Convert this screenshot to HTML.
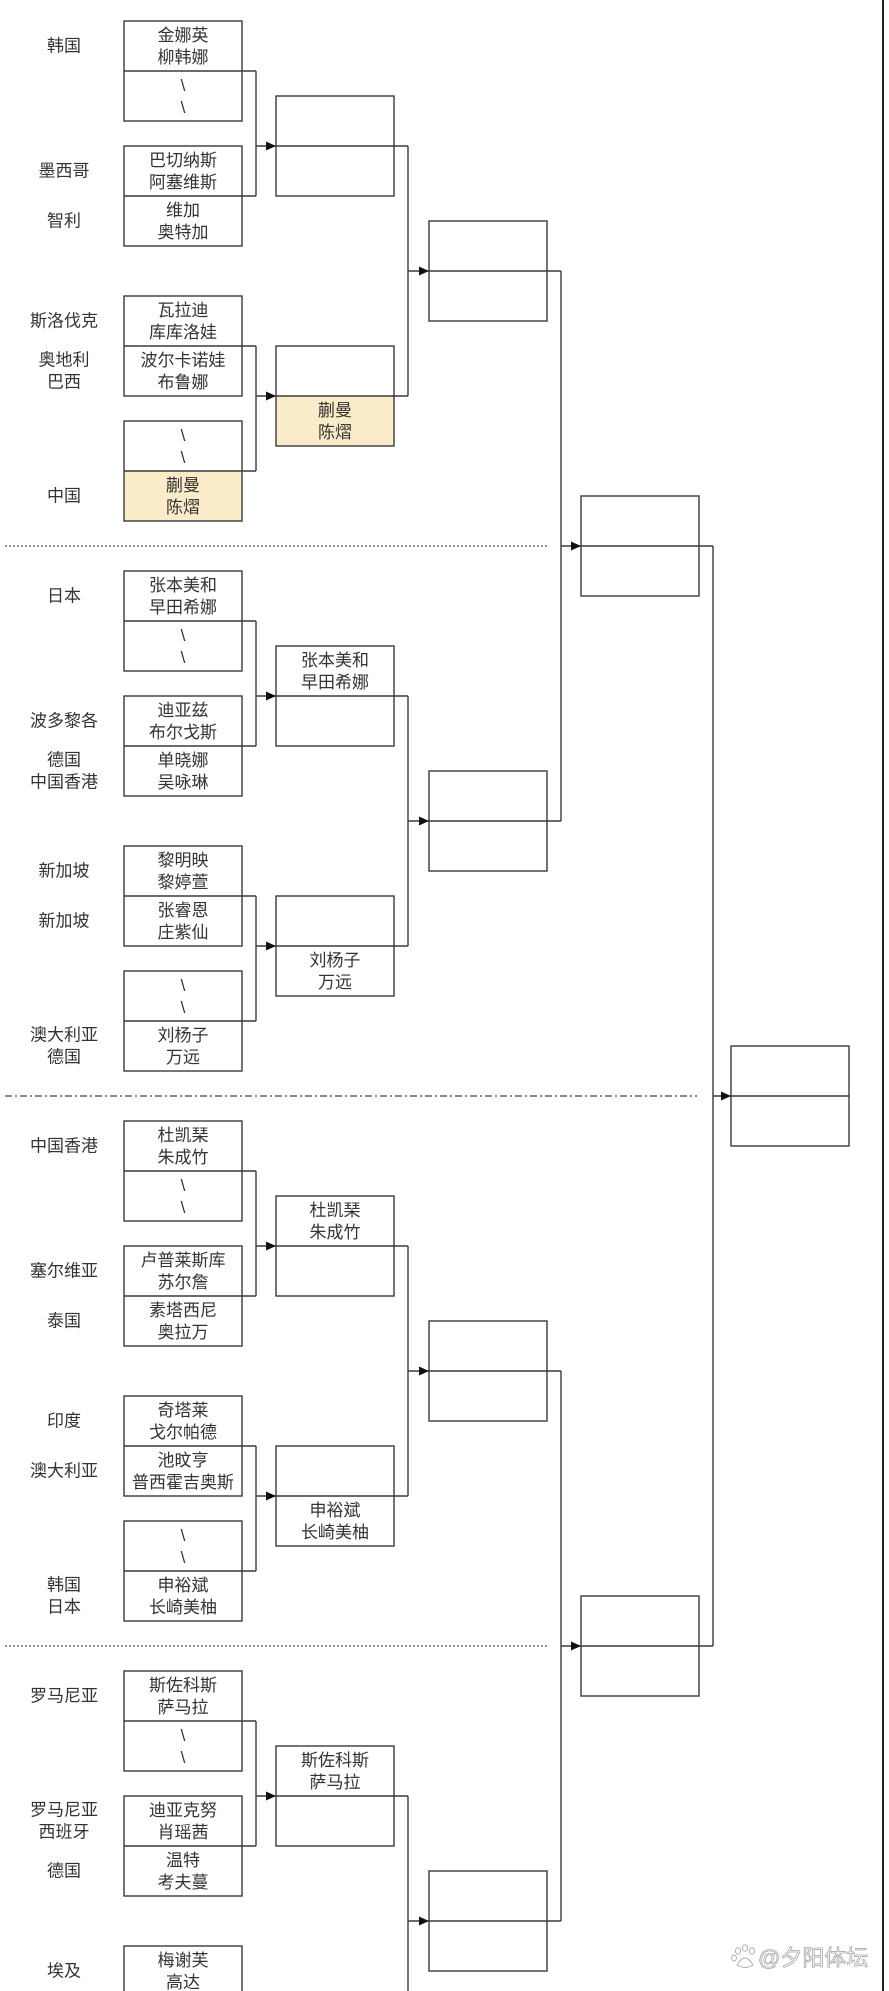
<!DOCTYPE html>
<html><head><meta charset="utf-8">
<style>
html,body{margin:0;padding:0;background:#fff;}
svg{display:block;}
text{font-family:"Liberation Sans","Noto Sans CJK SC",sans-serif;font-size:17px;fill:#333;text-anchor:middle;dominant-baseline:central;}
.b{fill:none;stroke:#3a3a3a;stroke-width:1.4;}
.y{fill:#fbecc9;stroke:none;}
.l{stroke:#3a3a3a;stroke-width:1.4;fill:none;}
.a{fill:#111;}
.wm{font-size:22px;fill:#fff;stroke:#a8a8a8;stroke-width:0.8;text-anchor:start;}
</style></head>
<body>
<svg width="889" height="1991" viewBox="0 0 889 1991" xmlns="http://www.w3.org/2000/svg">
<!-- yellow fills -->
<rect class="y" x="124" y="471" width="118" height="50"/>
<rect class="y" x="276" y="396" width="118" height="50"/>

<!-- dashed separators -->
<line x1="5" y1="546" x2="547" y2="546" stroke="#555" stroke-width="1.2" stroke-dasharray="2 2"/>
<line x1="5" y1="1096" x2="697" y2="1096" stroke="#444" stroke-width="1.3" stroke-dasharray="7 3 2 3"/>
<line x1="5" y1="1646" x2="547" y2="1646" stroke="#555" stroke-width="1.2" stroke-dasharray="2 2"/>

<!-- right border -->
<line x1="883" y1="0" x2="883" y2="1991" stroke="#222" stroke-width="2"/>

<!-- ===== Section 1 ===== -->
<rect class="b" x="124" y="21" width="118" height="100"/><line class="l" x1="124" y1="71" x2="256" y2="71"/>
<rect class="b" x="124" y="146" width="118" height="100"/><line class="l" x1="124" y1="196" x2="256" y2="196"/>
<rect class="b" x="124" y="296" width="118" height="100"/><line class="l" x1="124" y1="346" x2="256" y2="346"/>
<rect class="b" x="124" y="421" width="118" height="100"/><line class="l" x1="124" y1="471" x2="256" y2="471"/>
<line class="l" x1="256" y1="71" x2="256" y2="196"/>
<line class="l" x1="256" y1="346" x2="256" y2="471"/>
<line class="l" x1="256" y1="146" x2="276" y2="146"/><polygon class="a" points="276,146 266,141.5 266,150.5"/>
<line class="l" x1="256" y1="396" x2="276" y2="396"/><polygon class="a" points="276,396 266,391.5 266,400.5"/>
<rect class="b" x="276" y="96" width="118" height="100"/><line class="l" x1="276" y1="146" x2="408" y2="146"/>
<rect class="b" x="276" y="346" width="118" height="100"/><line class="l" x1="276" y1="396" x2="408" y2="396"/>
<line class="l" x1="408" y1="146" x2="408" y2="396"/>
<line class="l" x1="408" y1="271" x2="429" y2="271"/><polygon class="a" points="429,271 419,266.5 419,275.5"/>
<rect class="b" x="429" y="221" width="118" height="100"/><line class="l" x1="429" y1="271" x2="561" y2="271"/>

<text x="64" y="46">韩国</text>
<text x="64" y="171">墨西哥</text>
<text x="64" y="221">智利</text>
<text x="64" y="321">斯洛伐克</text>
<text x="64" y="360">奥地利</text><text x="64" y="382">巴西</text>
<text x="64" y="496">中国</text>

<text x="183" y="35.5">金娜英</text><text x="183" y="57.5">柳韩娜</text>
<text x="183" y="85.5">\</text><text x="183" y="107.5">\</text>
<text x="183" y="160.5">巴切纳斯</text><text x="183" y="182.5">阿塞维斯</text>
<text x="183" y="210.5">维加</text><text x="183" y="232.5">奥特加</text>
<text x="183" y="310.5">瓦拉迪</text><text x="183" y="332.5">库库洛娃</text>
<text x="183" y="360.5">波尔卡诺娃</text><text x="183" y="382.5">布鲁娜</text>
<text x="183" y="435.5">\</text><text x="183" y="457.5">\</text>
<text x="183" y="485.5">蒯曼</text><text x="183" y="507.5">陈熠</text>
<text x="335" y="410.5">蒯曼</text><text x="335" y="432.5">陈熠</text>

<!-- ===== Section 2 ===== -->
<rect class="b" x="124" y="571" width="118" height="100"/><line class="l" x1="124" y1="621" x2="256" y2="621"/>
<rect class="b" x="124" y="696" width="118" height="100"/><line class="l" x1="124" y1="746" x2="256" y2="746"/>
<rect class="b" x="124" y="846" width="118" height="100"/><line class="l" x1="124" y1="896" x2="256" y2="896"/>
<rect class="b" x="124" y="971" width="118" height="100"/><line class="l" x1="124" y1="1021" x2="256" y2="1021"/>
<line class="l" x1="256" y1="621" x2="256" y2="746"/>
<line class="l" x1="256" y1="896" x2="256" y2="1021"/>
<line class="l" x1="256" y1="696" x2="276" y2="696"/><polygon class="a" points="276,696 266,691.5 266,700.5"/>
<line class="l" x1="256" y1="946" x2="276" y2="946"/><polygon class="a" points="276,946 266,941.5 266,950.5"/>
<rect class="b" x="276" y="646" width="118" height="100"/><line class="l" x1="276" y1="696" x2="408" y2="696"/>
<rect class="b" x="276" y="896" width="118" height="100"/><line class="l" x1="276" y1="946" x2="408" y2="946"/>
<line class="l" x1="408" y1="696" x2="408" y2="946"/>
<line class="l" x1="408" y1="821" x2="429" y2="821"/><polygon class="a" points="429,821 419,816.5 419,825.5"/>
<rect class="b" x="429" y="771" width="118" height="100"/><line class="l" x1="429" y1="821" x2="561" y2="821"/>

<text x="64" y="596">日本</text>
<text x="64" y="721">波多黎各</text>
<text x="64" y="760">德国</text><text x="64" y="782">中国香港</text>
<text x="64" y="871">新加坡</text>
<text x="64" y="921">新加坡</text>
<text x="64" y="1035">澳大利亚</text><text x="64" y="1057">德国</text>

<text x="183" y="585.5">张本美和</text><text x="183" y="607.5">早田希娜</text>
<text x="183" y="635.5">\</text><text x="183" y="657.5">\</text>
<text x="183" y="710.5">迪亚兹</text><text x="183" y="732.5">布尔戈斯</text>
<text x="183" y="760.5">单晓娜</text><text x="183" y="782.5">吴咏琳</text>
<text x="183" y="860.5">黎明映</text><text x="183" y="882.5">黎婷萱</text>
<text x="183" y="910.5">张睿恩</text><text x="183" y="932.5">庄紫仙</text>
<text x="183" y="985.5">\</text><text x="183" y="1007.5">\</text>
<text x="183" y="1035.5">刘杨子</text><text x="183" y="1057.5">万远</text>
<text x="335" y="660.5">张本美和</text><text x="335" y="682.5">早田希娜</text>
<text x="335" y="960.5">刘杨子</text><text x="335" y="982.5">万远</text>

<!-- ===== Section 3 ===== -->
<rect class="b" x="124" y="1121" width="118" height="100"/><line class="l" x1="124" y1="1171" x2="256" y2="1171"/>
<rect class="b" x="124" y="1246" width="118" height="100"/><line class="l" x1="124" y1="1296" x2="256" y2="1296"/>
<rect class="b" x="124" y="1396" width="118" height="100"/><line class="l" x1="124" y1="1446" x2="256" y2="1446"/>
<rect class="b" x="124" y="1521" width="118" height="100"/><line class="l" x1="124" y1="1571" x2="256" y2="1571"/>
<line class="l" x1="256" y1="1171" x2="256" y2="1296"/>
<line class="l" x1="256" y1="1446" x2="256" y2="1571"/>
<line class="l" x1="256" y1="1246" x2="276" y2="1246"/><polygon class="a" points="276,1246 266,1241.5 266,1250.5"/>
<line class="l" x1="256" y1="1496" x2="276" y2="1496"/><polygon class="a" points="276,1496 266,1491.5 266,1500.5"/>
<rect class="b" x="276" y="1196" width="118" height="100"/><line class="l" x1="276" y1="1246" x2="408" y2="1246"/>
<rect class="b" x="276" y="1446" width="118" height="100"/><line class="l" x1="276" y1="1496" x2="408" y2="1496"/>
<line class="l" x1="408" y1="1246" x2="408" y2="1496"/>
<line class="l" x1="408" y1="1371" x2="429" y2="1371"/><polygon class="a" points="429,1371 419,1366.5 419,1375.5"/>
<rect class="b" x="429" y="1321" width="118" height="100"/><line class="l" x1="429" y1="1371" x2="561" y2="1371"/>

<text x="64" y="1146">中国香港</text>
<text x="64" y="1271">塞尔维亚</text>
<text x="64" y="1321">泰国</text>
<text x="64" y="1421">印度</text>
<text x="64" y="1471">澳大利亚</text>
<text x="64" y="1585">韩国</text><text x="64" y="1607">日本</text>

<text x="183" y="1135.5">杜凯琹</text><text x="183" y="1157.5">朱成竹</text>
<text x="183" y="1185.5">\</text><text x="183" y="1207.5">\</text>
<text x="183" y="1260.5">卢普莱斯库</text><text x="183" y="1282.5">苏尔詹</text>
<text x="183" y="1310.5">素塔西尼</text><text x="183" y="1332.5">奥拉万</text>
<text x="183" y="1410.5">奇塔莱</text><text x="183" y="1432.5">戈尔帕德</text>
<text x="183" y="1460.5">池旼亨</text><text x="183" y="1482.5">普西霍吉奥斯</text>
<text x="183" y="1535.5">\</text><text x="183" y="1557.5">\</text>
<text x="183" y="1585.5">申裕斌</text><text x="183" y="1607.5">长崎美柚</text>
<text x="335" y="1210.5">杜凯琹</text><text x="335" y="1232.5">朱成竹</text>
<text x="335" y="1510.5">申裕斌</text><text x="335" y="1532.5">长崎美柚</text>

<!-- ===== Section 4 ===== -->
<rect class="b" x="124" y="1671" width="118" height="100"/><line class="l" x1="124" y1="1721" x2="256" y2="1721"/>
<rect class="b" x="124" y="1796" width="118" height="100"/><line class="l" x1="124" y1="1846" x2="256" y2="1846"/>
<rect class="b" x="124" y="1946" width="118" height="100"/>
<line class="l" x1="256" y1="1721" x2="256" y2="1846"/>
<line class="l" x1="256" y1="1796" x2="276" y2="1796"/><polygon class="a" points="276,1796 266,1791.5 266,1800.5"/>
<rect class="b" x="276" y="1746" width="118" height="100"/><line class="l" x1="276" y1="1796" x2="408" y2="1796"/>
<line class="l" x1="408" y1="1796" x2="408" y2="2000"/>
<line class="l" x1="408" y1="1921" x2="429" y2="1921"/><polygon class="a" points="429,1921 419,1916.5 419,1925.5"/>
<rect class="b" x="429" y="1871" width="118" height="100"/><line class="l" x1="429" y1="1921" x2="561" y2="1921"/>

<text x="64" y="1696">罗马尼亚</text>
<text x="64" y="1810">罗马尼亚</text><text x="64" y="1832">西班牙</text>
<text x="64" y="1871">德国</text>
<text x="64" y="1971">埃及</text>

<text x="183" y="1685.5">斯佐科斯</text><text x="183" y="1707.5">萨马拉</text>
<text x="183" y="1735.5">\</text><text x="183" y="1757.5">\</text>
<text x="183" y="1810.5">迪亚克努</text><text x="183" y="1832.5">肖瑶茜</text>
<text x="183" y="1860.5">温特</text><text x="183" y="1882.5">考夫蔓</text>
<text x="183" y="1960.5">梅谢芙</text><text x="183" y="1982.5">高达</text>
<text x="335" y="1760.5">斯佐科斯</text><text x="335" y="1782.5">萨马拉</text>

<!-- ===== Column 3 brackets -> Column 4 ===== -->
<line class="l" x1="561" y1="271" x2="561" y2="821"/>
<line class="l" x1="561" y1="546" x2="581" y2="546"/><polygon class="a" points="581,546 571,541.5 571,550.5"/>
<line class="l" x1="561" y1="1371" x2="561" y2="1921"/>
<line class="l" x1="561" y1="1646" x2="581" y2="1646"/><polygon class="a" points="581,1646 571,1641.5 571,1650.5"/>

<!-- Column 4 boxes -->
<rect class="b" x="581" y="496" width="118" height="100"/><line class="l" x1="581" y1="546" x2="713" y2="546"/>
<rect class="b" x="581" y="1596" width="118" height="100"/><line class="l" x1="581" y1="1646" x2="713" y2="1646"/>
<line class="l" x1="713" y1="546" x2="713" y2="1646"/>
<line class="l" x1="713" y1="1096" x2="731" y2="1096"/><polygon class="a" points="731,1096 721,1091.5 721,1100.5"/>

<!-- Column 5 (final) -->
<rect class="b" x="731" y="1046" width="118" height="100"/><line class="l" x1="731" y1="1096" x2="849" y2="1096"/>

<!-- watermark -->
<g fill="#fff" stroke="#a8a8a8" stroke-width="0.9">
<ellipse cx="738" cy="1951" rx="2.6" ry="3.2"/>
<ellipse cx="745" cy="1948" rx="2.6" ry="3.2"/>
<ellipse cx="752" cy="1951" rx="2.6" ry="3.2"/>
<ellipse cx="734" cy="1958" rx="2.4" ry="3"/>
<path d="M737 1965 Q745 1951 753 1965 Q745 1970 737 1965 Z"/>
</g>
<text class="wm" x="758" y="1958">@夕阳体坛</text>
</svg>
</body></html>
